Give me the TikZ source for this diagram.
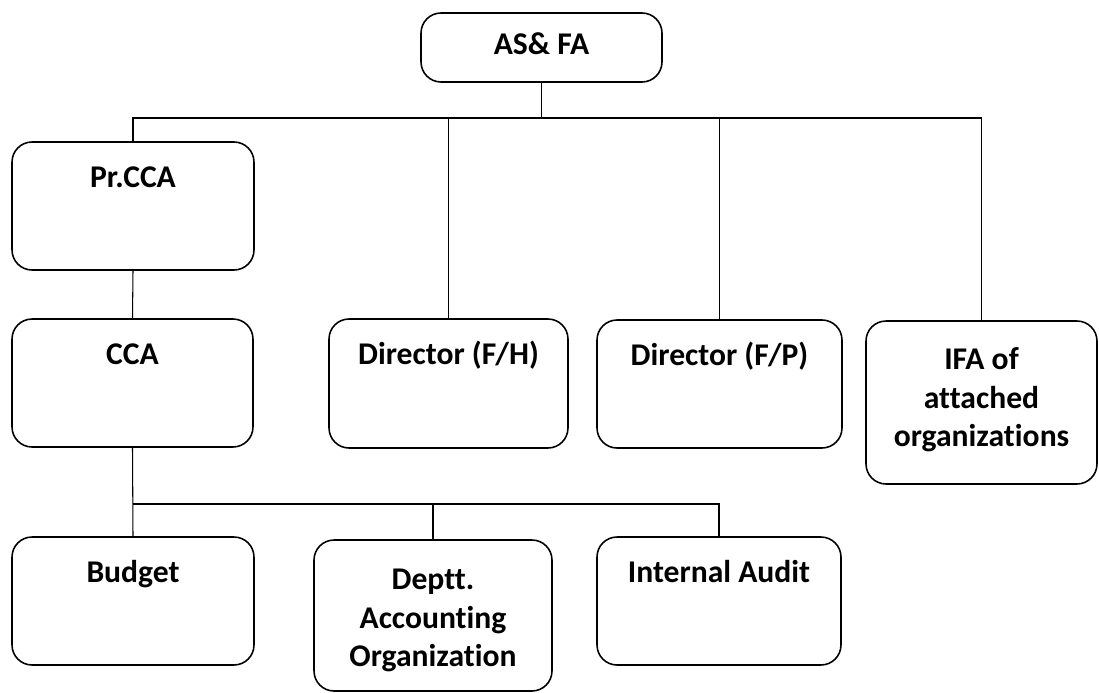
\documentclass[tikz,border=0pt]{standalone}
\usepackage{fontspec}
\setmainfont[Ligatures=NoCommon]{Carlito}
\usepackage{tikz}
\usetikzlibrary{positioning}

\begin{document}
\begin{tikzpicture}[x=0.02cm,y=-0.02cm,
   box/.style={draw=black, line width=0.9pt, rounded corners=0.4cm, inner sep=0pt},
   lbl/.style={font=\bfseries\fontsize{18}{22}\selectfont, align=center, inner sep=0pt},
   wire/.style={black, line width=0.6pt}]
  \useasboundingbox (0,0) rectangle (1099,693);
   \node[box, minimum width=4.82cm, minimum height=1.38cm] (asfa) at (541.5,47.5) {};
   \node[box, minimum width=4.84cm, minimum height=2.56cm] (prcca) at (133,206) {};
   \node[box, minimum width=4.82cm, minimum height=2.56cm] (cca) at (132.5,383) {};
   \node[box, minimum width=4.78cm, minimum height=2.58cm] (dirfh) at (448.5,383.5) {};
   \node[box, minimum width=4.90cm, minimum height=2.56cm] (dirfp) at (719.5,384) {};
   \node[box, minimum width=4.62cm, minimum height=3.26cm] (ifa) at (981.5,402.5) {};
   \node[box, minimum width=4.84cm, minimum height=2.56cm] (budget) at (133,601) {};
   \node[box, minimum width=4.76cm, minimum height=3.02cm] (deptt) at (433,615.5) {};
   \node[box, minimum width=4.88cm, minimum height=2.56cm] (audit) at (719,601) {};
  % texts, hung from the top of each box
    \node[lbl, below=0.30cm of asfa.north] (asfa-t) {\strut AS\& FA};
    \node[lbl, below=0.38cm of prcca.north] (prcca-t) {\strut Pr.CCA};
    \node[lbl, below=0.38cm of cca.north] (cca-t) {\strut CCA};
    \node[lbl, below=0.38cm of dirfh.north] (dirfh-t) {\strut Director (F/H)};
    \node[lbl, below=0.38cm of dirfp.north] (dirfp-t) {\strut Director (F/P)};
    \node[lbl, below=0.44cm of ifa.north] (ifa-t) {\strut IFA of\\ attached\\ organizations};
    \node[lbl, below=0.38cm of budget.north] (budget-t) {\strut Budget};
    \node[lbl, below=0.46cm of deptt.north] (deptt-t) {\strut Deptt.\\ Accounting\\ Organization};
    \node[lbl, below=0.38cm of audit.north] (audit-t) {\strut Internal Audit};
  \coordinate (bus1) at (540,118);
  \coordinate (bus2) at (130,504);
        \draw[wire] (asfa.south) -- (asfa.south |- bus1);
        \draw[wire] (prcca.north) |- (ifa.north |- bus1) -- (ifa.north);
        \draw[wire] (dirfh.north) -- (dirfh.north |- bus1);
        \draw[wire] (dirfp.north) -- (dirfp.north |- bus1);
        \draw[wire] (prcca.south) -- (cca.north);
        \draw[wire] (cca.south) -- (budget.north);
        \draw[wire] (cca.south |- bus2) -| (audit.north);
        \draw[wire] (deptt.north) -- (deptt.north |- bus2);
\end{tikzpicture}
\end{document}
